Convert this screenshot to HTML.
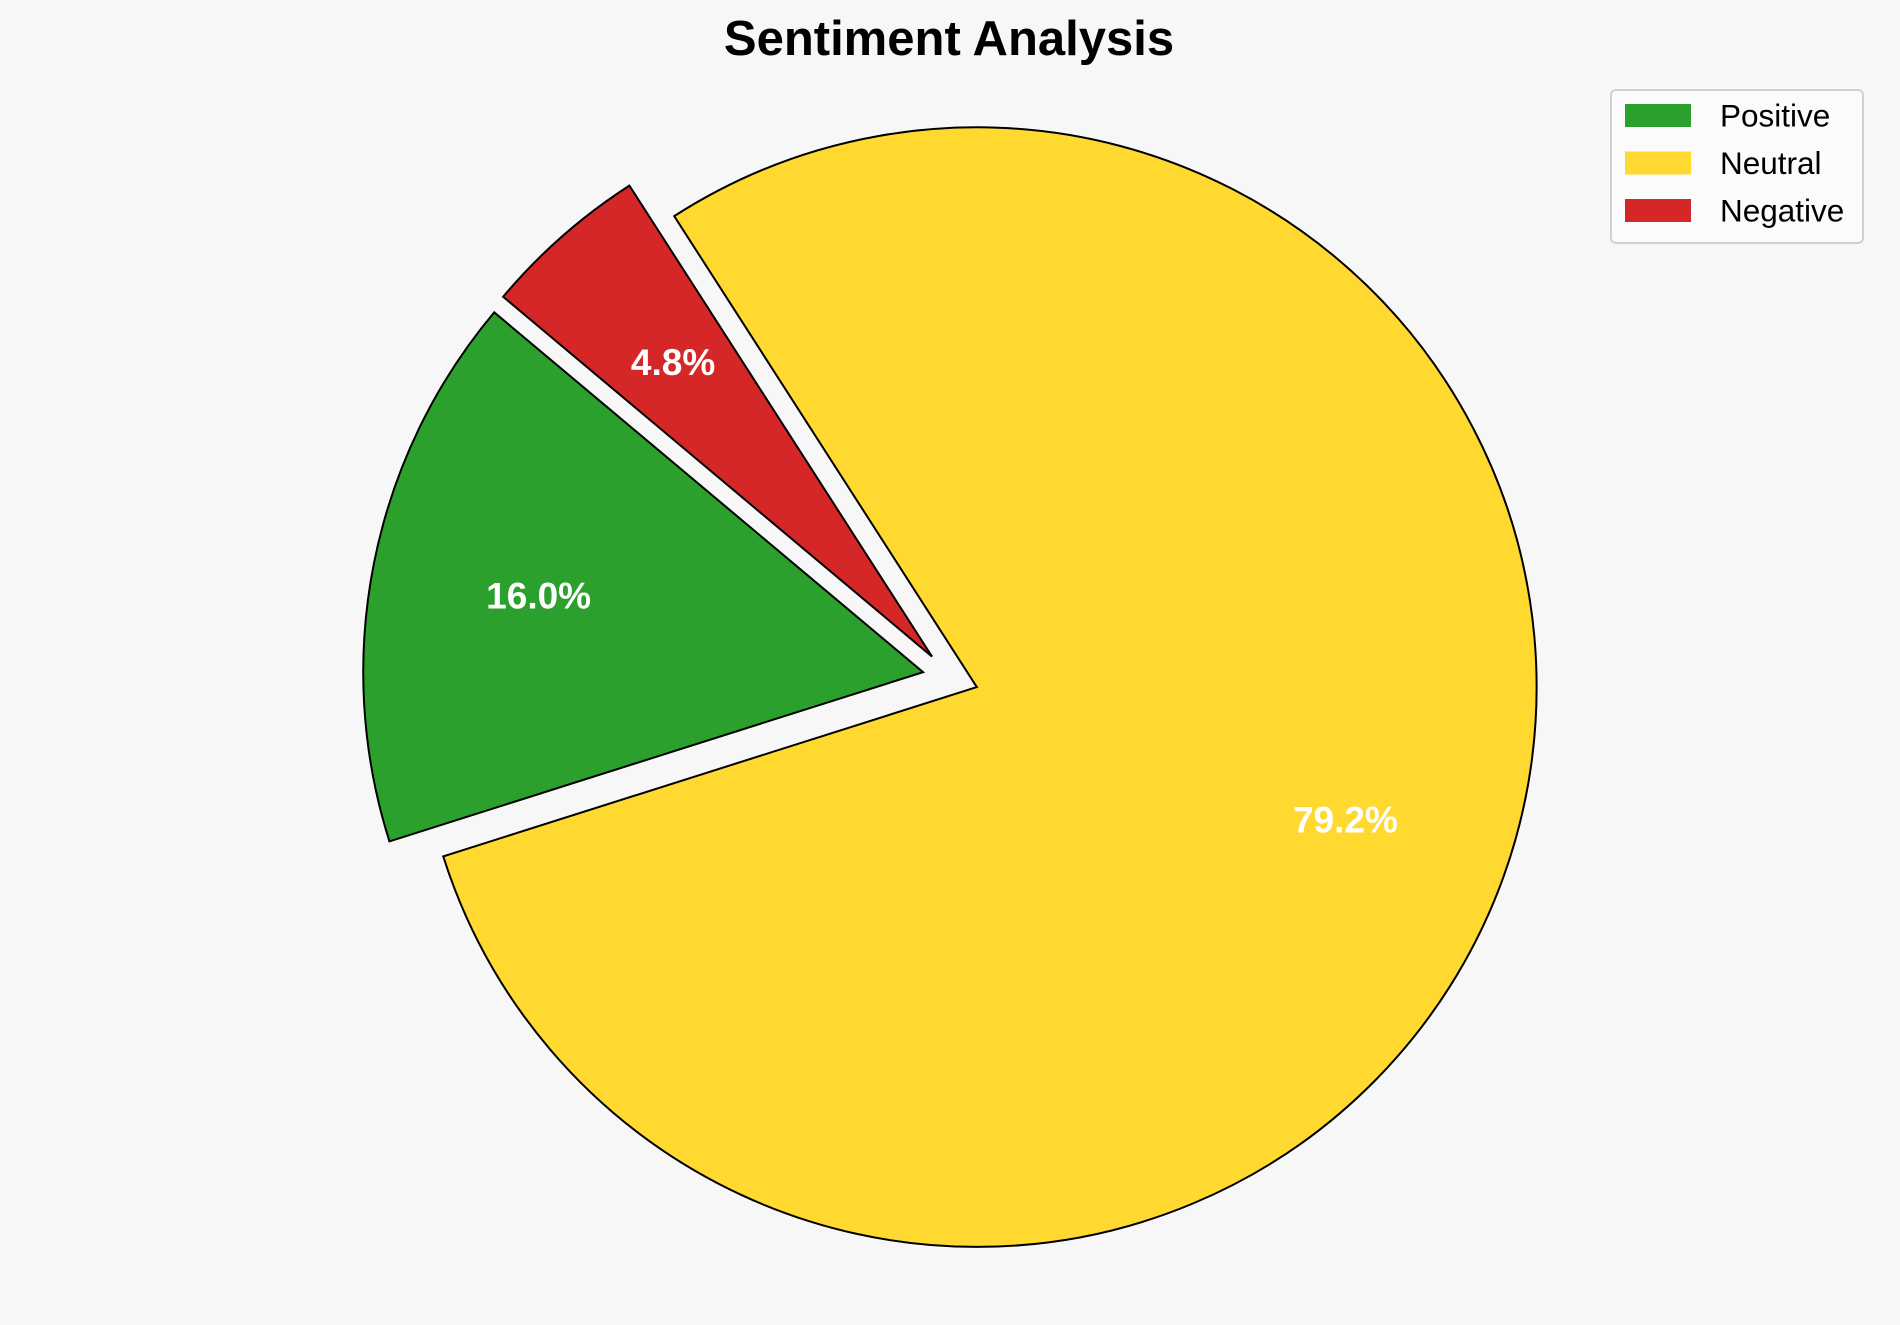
<!DOCTYPE html>
<html><head><meta charset="utf-8"><style>
html,body{margin:0;padding:0;background:#f7f7f7;}
svg{display:block;}
text{font-family:"Liberation Sans",Arial,sans-serif;}
</style></head><body>
<svg id="chart" width="1900" height="1325" viewBox="0 0 1900 1325" xmlns="http://www.w3.org/2000/svg">
<rect x="0" y="0" width="1900" height="1325" fill="#f7f7f7"/>
<text x="949" y="55" text-anchor="middle" font-size="49" font-weight="bold" fill="#000">Sentiment Analysis</text>
<g id="pie"></g>
<g>
<rect x="1611" y="90" width="252" height="153" rx="5" fill="#fbfbfb" stroke="#d0d0d0" stroke-width="2"/>
<g id="legend-items"></g>
</g>
</svg>
<script>
const categories = ["Positive", "Neutral", "Negative"];
const values = [16.0, 79.2, 4.8];
const colors = ["#2ca02c", "#ffd92f", "#d62728"];
const explode = [0.05, 0.05, 0.05];
const pctLabels = ["16.0%", "79.2%", "4.8%"];

const NS = "http://www.w3.org/2000/svg";
const cx = 950.5, cy = 677.6, R = 559.8, startAngle = 140, pctDist = 0.7;
const total = values.reduce((a, b) => a + b, 0);
const pie = document.getElementById("pie");
const pt = (x, y, r, deg) => [x + r * Math.cos(deg * Math.PI / 180), y - r * Math.sin(deg * Math.PI / 180)];
let a0 = startAngle;
values.forEach((v, i) => {
  const sweep = v / total * 360;
  const a1 = a0 + sweep;
  const mid = (a0 + a1) / 2;
  const [ox, oy] = pt(cx, cy, explode[i] * R, mid);
  const [x0, y0] = pt(ox, oy, R, a0);
  const [x1, y1] = pt(ox, oy, R, a1);
  const large = sweep > 180 ? 1 : 0;
  const path = document.createElementNS(NS, "path");
  path.setAttribute("d", `M${ox},${oy} L${x0},${y0} A${R},${R} 0 ${large} 0 ${x1},${y1} Z`);
  path.setAttribute("fill", colors[i]);
  path.setAttribute("stroke", "#000");
  path.setAttribute("stroke-width", "2");
  path.setAttribute("stroke-linejoin", "miter");
  
  
  pie.appendChild(path);
  const [lx, ly] = pt(ox, oy, R * pctDist, mid);
  const t = document.createElementNS(NS, "text");
  t.setAttribute("x", lx);
  t.setAttribute("y", ly);
  t.setAttribute("text-anchor", "middle");
  t.setAttribute("dominant-baseline", "central");
  t.setAttribute("font-size", "37");
  t.setAttribute("font-weight", "bold");
  t.setAttribute("fill", "#ffffff");
  t.textContent = pctLabels[i];
  
  
  pie.appendChild(t);
  a0 = a1;
});
const leg = document.getElementById("legend-items");
categories.forEach((c, i) => {
  const y = 104 + i * 47.5;
  const r = document.createElementNS(NS, "rect");
  r.setAttribute("x", 1625); r.setAttribute("y", y);
  r.setAttribute("width", 66); r.setAttribute("height", 23);
  r.setAttribute("fill", colors[i]);
  
  
  leg.appendChild(r);
  const t = document.createElementNS(NS, "text");
  t.setAttribute("x", 1720); t.setAttribute("y", y + 22.5);
  t.setAttribute("font-size", "31.5"); t.setAttribute("fill", "#000");
  t.textContent = c;
  
  
  leg.appendChild(t);
});
</script>
</body></html>
